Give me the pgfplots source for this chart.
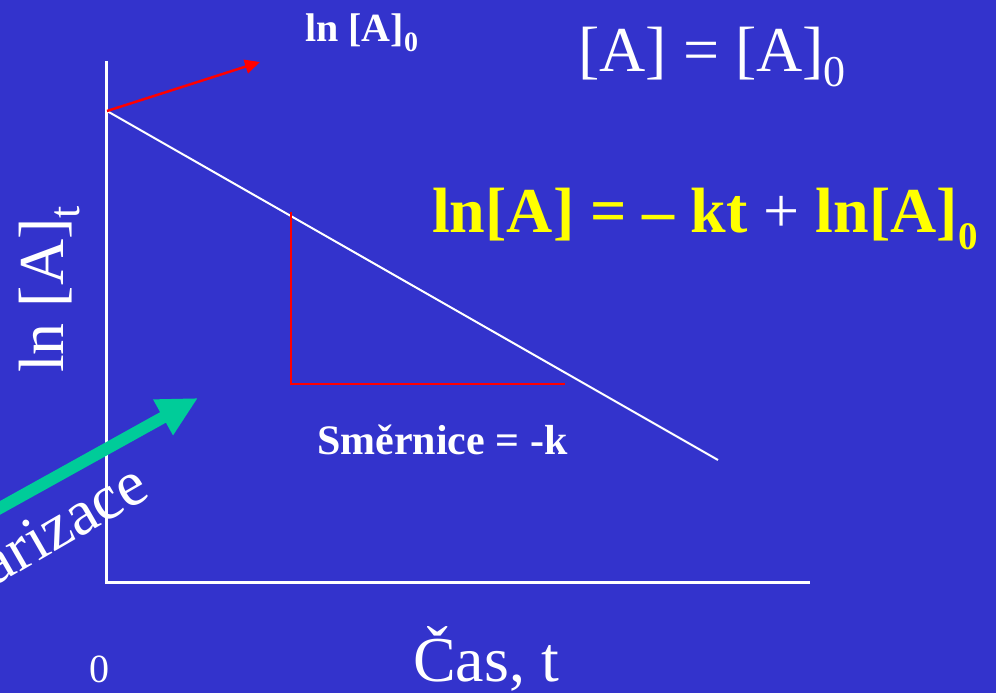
\documentclass[border=0pt]{standalone}
\usepackage{fontspec}
\setmainfont{Liberation Serif}
\usepackage{pgfplots}
\pgfplotsset{compat=1.18}
\usetikzlibrary{arrows.meta}

\definecolor{slidebg}{RGB}{51,51,204}
\definecolor{arrowgreen}{RGB}{0,204,153}
\definecolor{eqyellow}{RGB}{255,255,0}
\definecolor{slopered}{RGB}{255,0,0}

% font size in pt, and a lowered subscript: depth, size, text
\newcommand\fs[1]{\fontsize{#1}{#1}\selectfont}
\newcommand\lowsub[3]{\raisebox{-#1pt}{\fs{#2}#3}}

\begin{document}
\begin{tikzpicture}[x=1pt,y=1pt]
\useasboundingbox (0,0) rectangle (996,693);
\fill[slidebg] (0,0) rectangle (996,693);
\begin{scope}
\clip (0,0) rectangle (996,693);
\begin{axis}[
  at={(0,0)}, anchor=origin,
  width=996pt, height=693pt, scale only axis,
  xmin=0, xmax=996, ymin=0, ymax=693,
  hide axis, clip=false]

% coordinate axes of the sketch
\addplot[white, line width=3pt] coordinates {(107,632) (107,110) (810,110)};

% ln[A] falls linearly with time
\addplot[white, line width=2pt] coordinates {(107,582) (718,233)};

% slope triangle
\addplot[slopered, line width=2.5pt] coordinates {(291,481) (291,309) (565,309)};

% pointer to the intercept ln[A]_0
\addplot[slopered, line width=2.5pt, -{Triangle[length=15pt,width=14pt]}]
  coordinates {(107,582) (260,631)};

% linearisation arrow
\addplot[arrowgreen, line width=12pt, -{Triangle[length=40pt,width=38pt]}]
  coordinates {(-20,174) (198,295)};

% texts
\node[anchor=base west, inner sep=0, text=white, font=\fs{40}\bfseries]
  at (axis cs:305,651) {ln [A]\lowsub{10}{28}{0}};
\node[anchor=base west, inner sep=0, text=white, font=\fs{64}]
  at (axis cs:578,621) {[A] = [A]\lowsub{15}{44}{0}};
\node[anchor=base west, inner sep=0, font=\fs{64}\bfseries]
  at (axis cs:432,460) {\color{eqyellow}ln[A] = – kt \color{white}\mdseries+\color{eqyellow}\bfseries{} ln[A]\lowsub{17}{39}{0}};
\node[anchor=base west, inner sep=0, text=white, font=\fs{42}\bfseries]
  at (axis cs:317,238) {Směrnice = -k};
\node[anchor=base west, inner sep=0, text=white, font=\fs{64}, rotate=90]
  at (axis cs:64,320) {ln [A]\lowsub{16}{44}{t}};
\node[anchor=base west, inner sep=0, text=white, font=\fs{64}]
  at (axis cs:413,11) {Čas, t};
\node[anchor=base west, inner sep=0, text=white, font=\fs{40}]
  at (axis cs:89,10) {0};
\node[anchor=base east, inner sep=0, text=white, font=\fs{64}, rotate=30]
  at (axis cs:152,197) {Linearizace};
\end{axis}
\end{scope}
\end{tikzpicture}
\end{document}
